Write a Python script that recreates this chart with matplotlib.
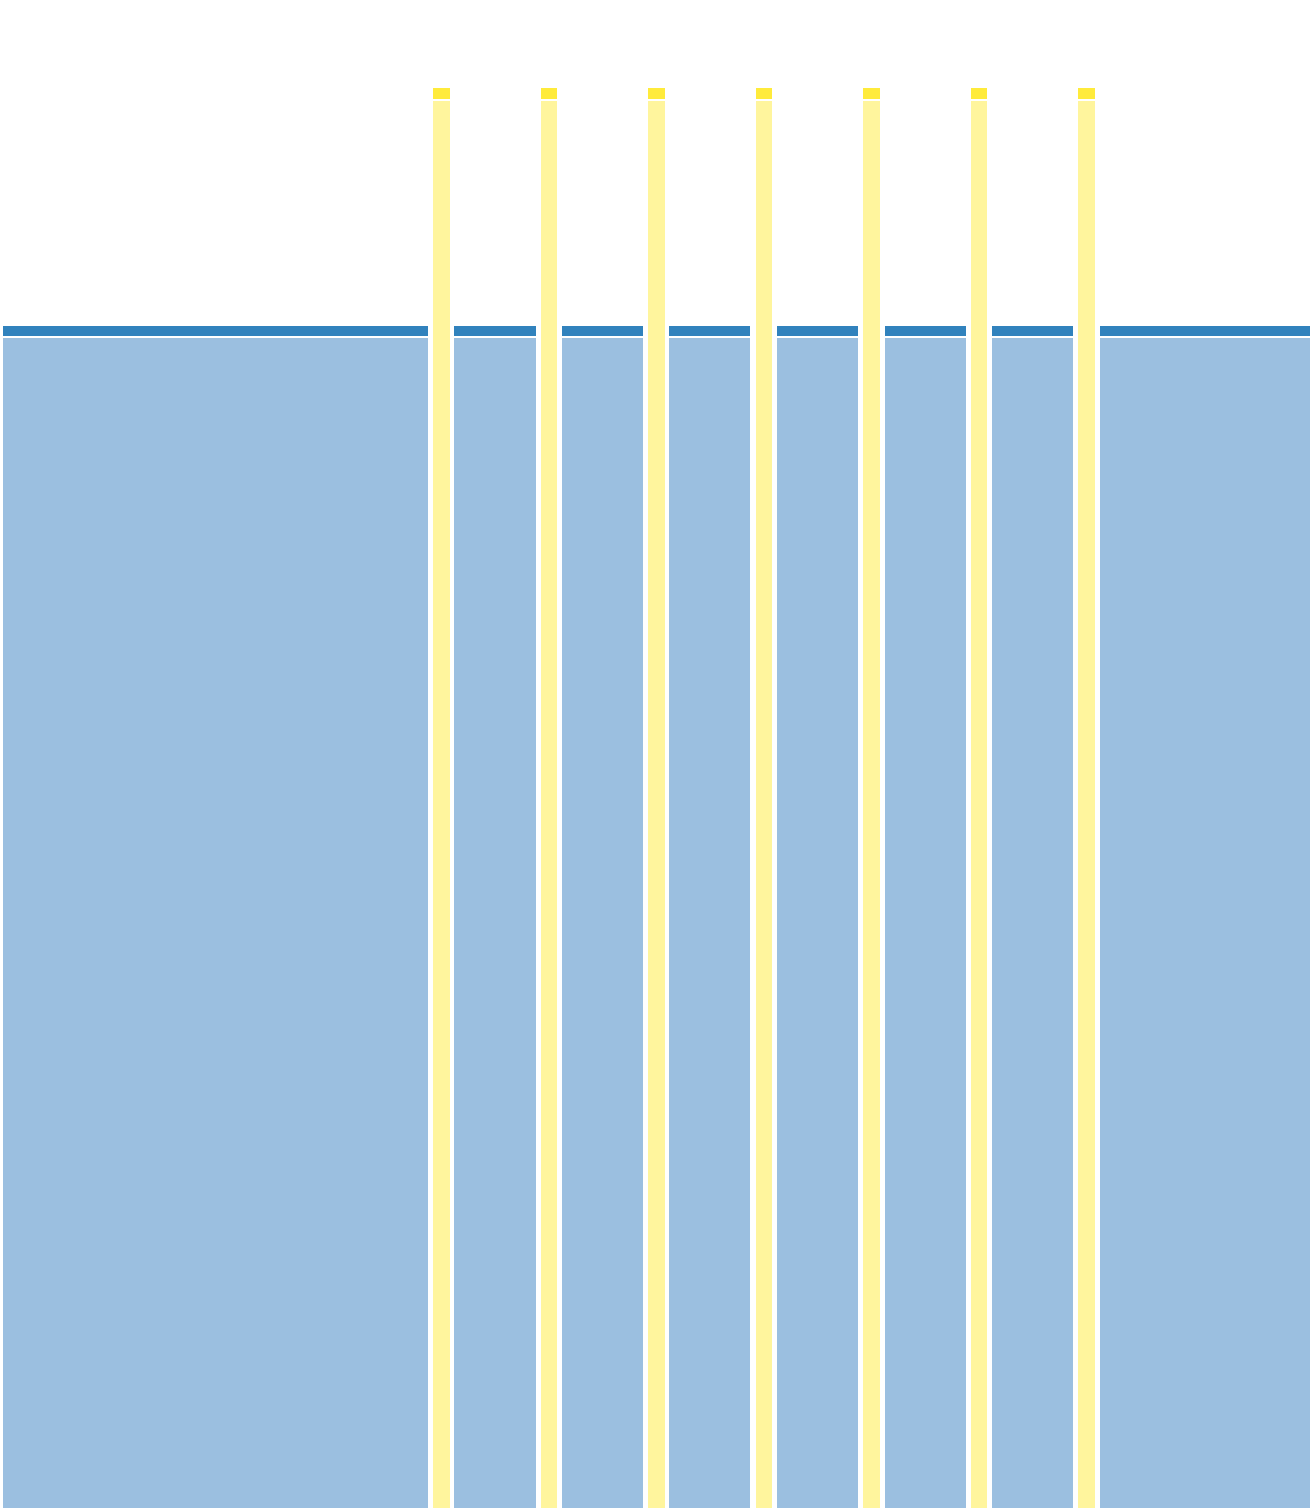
import matplotlib
matplotlib.use("Agg")
import matplotlib.pyplot as plt

# segments along the axis (start, end), kind and value
seg_start = [3, 433, 454, 541, 562, 648, 669, 756, 777, 863, 885, 971, 992, 1078, 1100]
seg_end = [428, 450, 536, 557, 643, 665, 750, 772, 858, 880, 966, 987, 1073, 1095, 1310]
seg_kind = ["blue", "yellow"] * 7 + ["blue"]
seg_value = [1182 if k == "blue" else 1420 for k in seg_kind]

cap_color = {"blue": "#3182bd", "yellow": "#ffeb3b"}
body_color = {"blue": "#9bbfe0", "yellow": "#fff59d"}
cap_height = {"blue": 10, "yellow": 11}

fig = plt.figure(figsize=(13.12, 15.08), dpi=100)
ax = fig.add_axes([0, 0, 1, 1])

for s, e, k, v in zip(seg_start, seg_end, seg_kind, seg_value):
    # dark cap on top
    ax.bar(s, cap_height[k], width=e - s, bottom=v - cap_height[k], align="edge",
           color=cap_color[k], linewidth=0)
    # light body below, with a thin white gap
    ax.bar(s, v - cap_height[k] - 1.5, width=e - s, bottom=0, align="edge",
           color=body_color[k], linewidth=0)

ax.set_xlim(0, 1312)
ax.set_ylim(0, 1508)
ax.axis("off")

fig.savefig("out.png", dpi=100, facecolor="white")
